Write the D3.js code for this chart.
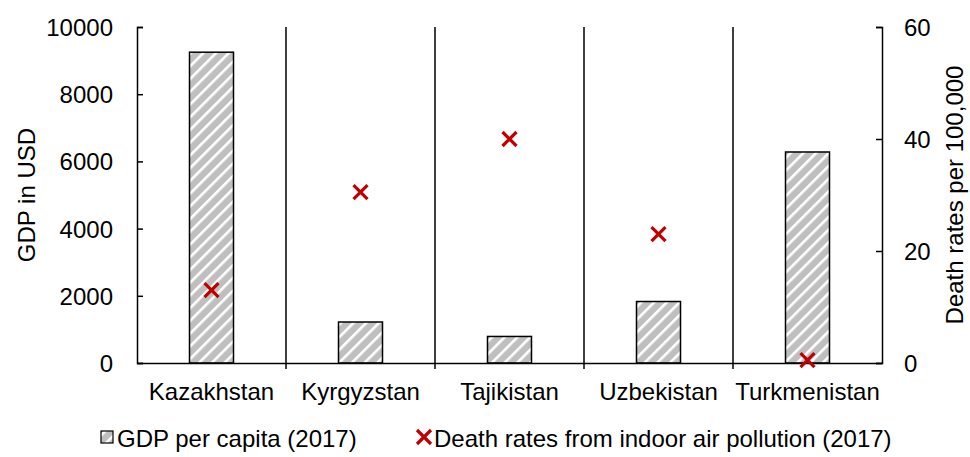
<!DOCTYPE html>
<html><head><meta charset="utf-8">
<script src="https://cdn.jsdelivr.net/npm/d3@7"></script>
<style>body{margin:0;background:#fff}svg{font-family:"Liberation Sans",Arial,sans-serif}</style>
</head><body><svg id="c" width="970" height="457"></svg>
<script>
const categories = ["Kazakhstan","Kyrgyzstan","Tajikistan","Uzbekistan","Turkmenistan"];
const gdp = [9250, 1220, 790, 1830, 6280];
const deathRates = [13, 30.5, 40, 23, 0.5];
const leftTicks = [0,2000,4000,6000,8000,10000];
const rightTicks = [0,20,40,60];

const svg = d3.select("#c");
const m = {l:137, r:882, t:27, b:363};
const x = d3.scaleBand().domain(categories).range([m.l,m.r]).paddingInner(0).paddingOuter(0);
const yL = d3.scaleLinear().domain([0,10000]).range([m.b,m.t]);
const yR = d3.scaleLinear().domain([0,60]).range([m.b,m.t]);

const defs = svg.append("defs");
const pat = defs.append("pattern").attr("id","hatch").attr("patternUnits","userSpaceOnUse")
  .attr("width",9).attr("height",9).attr("patternTransform","rotate(45)");
pat.append("rect").attr("width",9).attr("height",9).attr("fill","#bfbfbf");
pat.append("rect").attr("x",0).attr("width",2.6).attr("height",9).attr("fill","#ffffff");

// separators
svg.append("g").selectAll("line").data(categories.slice(1)).join("line")
  .attr("x1",d=>x(d)).attr("x2",d=>x(d)).attr("y1",m.t).attr("y2",m.b+6)
  .attr("stroke","#000").attr("stroke-width",1.5);

// bars
const bw = 44;
svg.append("g").selectAll("rect").data(categories).join("rect")
  .attr("x",(d)=>x(d)+x.bandwidth()/2-bw/2).attr("width",bw)
  .attr("y",(d,i)=>yL(gdp[i])).attr("height",(d,i)=>m.b-yL(gdp[i]))
  .attr("fill","url(#hatch)").attr("stroke","#000").attr("stroke-width",1.5);

// axes
const fs = 24;
const gL = svg.append("g").attr("transform",`translate(${m.l},0)`)
  .call(d3.axisRight(yL).tickValues(leftTicks).tickSize(6).tickFormat(d3.format("d")));
gL.selectAll("text").remove();
gL.selectAll(".tick").append("text").attr("x",-24).attr("dy","0.35em").attr("text-anchor","end")
  .attr("fill","#000").attr("font-size",fs).text(d=>d);
const gR = svg.append("g").attr("transform",`translate(${m.r},0)`)
  .call(d3.axisLeft(yR).tickValues(rightTicks).tickSize(6));
gR.selectAll("text").remove();
gR.selectAll(".tick").append("text").attr("x",22).attr("dy","0.35em").attr("text-anchor","start")
  .attr("fill","#000").attr("font-size",fs).text(d=>d);
[gL,gR].forEach(g=>{g.select(".domain").attr("stroke","#000").attr("stroke-width",1.5);
  g.selectAll(".tick line").attr("stroke","#000").attr("stroke-width",1.5);});
// x axis
const gX = svg.append("g").attr("transform",`translate(0,${m.b})`)
  .call(d3.axisBottom(x).tickSize(0).tickPadding(20));
gX.select(".domain").attr("stroke","#000").attr("stroke-width",1.5);
gX.selectAll("text").attr("font-size",fs).attr("fill","#000");

// crosses
const cs = 7;
svg.append("g").selectAll("path").data(categories).join("path")
  .attr("transform",(d,i)=>`translate(${x(d)+x.bandwidth()/2},${yR(deathRates[i])})`)
  .attr("d",`M${-cs},${-cs}L${cs},${cs}M${-cs},${cs}L${cs},${-cs}`)
  .attr("stroke","#c00000").attr("stroke-width",3.2).attr("fill","none");

// axis titles
svg.append("text").attr("transform",`translate(35,${(m.t+m.b)/2}) rotate(-90)`)
  .attr("text-anchor","middle").attr("font-size",fs).text("GDP in USD");
svg.append("text").attr("transform",`translate(963,${(m.t+m.b)/2}) rotate(-90)`)
  .attr("text-anchor","middle").attr("font-size",fs).text("Death rates per 100,000");

// legend
const lg = svg.append("g");
lg.append("rect").attr("x",101).attr("y",431).attr("width",12).attr("height",12)
  .attr("fill","url(#hatch)").attr("stroke","#000").attr("stroke-width",1.2);
lg.append("text").attr("x",117).attr("y",447).attr("font-size",fs).text("GDP per capita (2017)");
lg.append("path").attr("transform","translate(424,437)")
  .attr("d",`M${-cs},${-cs}L${cs},${cs}M${-cs},${cs}L${cs},${-cs}`)
  .attr("stroke","#c00000").attr("stroke-width",3.2).attr("fill","none");
lg.append("text").attr("x",434).attr("y",447).attr("font-size",fs).text("Death rates from indoor air pollution (2017)");
</script></body></html>
